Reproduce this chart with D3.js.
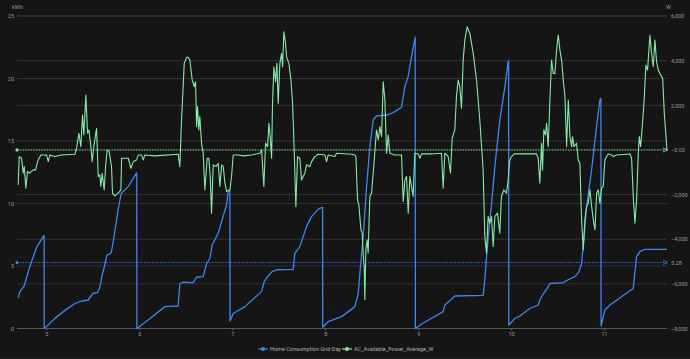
<!DOCTYPE html>
<html><head><meta charset="utf-8">
<script src="https://cdn.jsdelivr.net/npm/d3@7"></script>
<style>
html,body{margin:0;padding:0;background:#151515;}
svg{display:block;font-family:Roboto,"Open Sans",sans-serif;}
</style></head>
<body><svg id="c" width="690" height="359"></svg>
<script>
// ---- data ----
const dayTicks = [5,6,7,8,9,10,11];
const leftTicks = [0,5,10,15,20,25];
const rightTicks = [-8000,-6000,-4000,-2000,0,2000,4000,6000];
const seriesNames = ["Home Consumption Grid Day","AC_Available_Power_Average_W"];
const leftUnit = "kWh", rightUnit = "W";
const markerBlue = 5.28, markerGreen = -0.03;

const homeTimes = [4.697,4.715,4.761,4.822,4.895,4.966,4.976,4.977,
5.03,5.091,5.2,5.307,5.379,5.45,5.49,5.503,5.551,5.575,5.598,5.629,5.65,5.69,5.70,5.723,5.772,5.805,5.88,5.972,5.974,
6.095,6.275,6.418,6.436,6.472,6.579,6.616,6.687,6.724,6.759,6.784,6.848,6.885,6.939,6.956,6.974,6.976,
7.010,7.136,7.315,7.343,7.386,7.429,7.477,7.655,7.673,7.727,7.763,7.799,7.853,7.924,7.961,7.972,7.973,
8.032,8.176,8.319,8.355,8.373,8.408,8.445,8.480,8.516,8.552,8.677,8.749,8.821,8.857,8.892,8.929,8.965,8.968,8.970,
9.036,9.269,9.287,9.341,9.395,9.699,9.717,9.753,9.790,9.825,9.879,9.933,9.968,9.973,9.975,
10.040,10.094,10.201,10.291,10.309,10.345,10.381,10.417,10.560,10.614,10.686,10.732,10.758,10.775,10.812,10.866,10.919,10.955,10.966,10.968,
11.009,11.063,11.313,11.350,11.385,11.439,11.677];
const homeValues = [2.44,2.95,3.4,4.95,6.5,7.35,7.45,0,
0.35,0.81,1.45,2.0,2.2,2.28,2.7,2.82,2.87,3.3,4.2,5.1,5.85,6.0,6.15,7.1,9.5,10.8,11.35,12.45,0,
0.68,1.75,1.8,3.6,3.7,3.67,4.1,4.15,5.2,5.6,6.7,7.6,8.55,9.9,10.95,11.1,0.6,
1.2,1.75,2.95,3.75,4.2,4.55,4.7,4.73,6.0,6.55,7.35,8.15,8.95,9.55,9.67,9.7,0.1,
0.55,0.95,1.75,2.8,4.4,7.35,11.35,14.5,16.7,17.0,17.1,17.35,17.7,19.35,20.15,21.75,23.2,23.3,0,
0.36,1.35,1.88,2.22,2.6,2.65,3.9,7.35,10.0,12.95,16.7,19.35,21.35,21.4,0.28,
0.8,1.0,1.6,1.88,2.28,2.76,3.13,3.6,3.67,3.9,4.15,4.55,5.2,6.55,9.75,12.7,16.15,18.3,18.4,0.2,
1.48,1.88,3.2,5.75,6.15,6.33,6.33];

const acTimes = [4.697,4.708,4.733,4.751,4.762,4.779,4.797,4.822,4.858,4.883,4.912,4.941,5.002,5.020,5.038,5.091,5.163,5.307,
5.325,5.350,5.371,5.389,5.403,5.425,5.443,5.457,5.479,5.493,5.515,5.540,5.558,5.576,5.586,5.601,5.622,5.637,5.654,5.676,5.701,
5.712,5.737,5.773,5.802,5.809,5.881,5.910,5.935,5.971,5.988,6.024,6.042,6.060,6.167,6.418,6.436,6.454,6.483,6.508,
6.526,6.544,6.569,6.590,6.605,6.616,6.626,6.640,6.651,6.669,6.687,6.705,6.730,6.748,6.763,6.777,6.795,6.827,6.849,6.867,6.885,
6.903,6.921,6.939,6.975,6.992,7.010,7.064,7.118,7.208,7.298,7.316,7.326,7.340,7.358,7.380,7.394,7.408,7.423,7.433,7.448,7.466,
7.480,7.494,7.512,7.530,7.541,7.555,7.573,7.584,7.609,7.631,7.649,7.666,7.684,7.702,7.727,7.745,7.763,7.781,7.799,7.835,7.853,
7.888,7.924,7.996,8.014,8.032,8.104,8.122,8.283,8.319,8.330,8.348,8.362,8.384,8.398,8.408,8.419,8.426,8.437,8.451,8.462,8.480,
8.498,8.516,8.541,8.552,8.570,8.588,8.606,8.624,8.642,8.660,8.678,8.695,8.749,8.821,8.839,8.857,8.875,8.893,8.911,8.946,8.964,
9.000,9.018,9.036,9.143,9.251,9.269,9.287,9.323,9.348,9.366,9.394,9.412,9.430,9.448,9.466,9.484,9.502,9.527,9.556,9.592,9.628,
9.663,9.699,9.717,9.735,9.753,9.771,9.789,9.807,9.825,9.853,9.878,9.896,9.921,9.950,9.968,9.986,10.004,10.032,10.201,
10.273,10.291,10.309,10.327,10.338,10.352,10.370,10.381,10.399,10.417,10.435,10.453,10.471,10.489,10.507,10.525,10.543,10.561,
10.579,10.597,10.615,10.633,10.651,10.661,10.676,10.704,10.722,10.740,10.758,10.776,10.794,10.812,10.830,10.848,10.866,10.884,
10.902,10.920,10.937,10.955,10.973,10.991,11.009,11.027,11.045,11.081,11.099,11.134,11.278,11.296,11.314,11.332,11.350,11.368,
11.379,11.393,11.411,11.429,11.450,11.468,11.493,11.511,11.529,11.547,11.565,11.583,11.601,11.630,11.648,11.677];
const acValues = [-1566,-298,-373,-1044,-746,-1715,-969,-1044,-895,-895,-447,-224,-224,-522,-224,-298,-224,-194,
75,746,149,1566,671,2460,746,895,149,-522,298,969,-1193,-1118,-1640,-1044,-1789,-746,0,-75,-746,
-1938,-2058,-1938,-1789,-373,-373,-820,-522,-447,-224,-224,-447,-224,-268,-194,-746,1342,3877,4145,
4145,4026,3131,2833,3057,1044,1938,895,1491,298,-149,-1789,-373,-373,-1193,-2833,-671,-746,-596,-1640,-671,
-746,-1491,-1864,-1789,-1193,-224,-224,-268,-224,-149,0,-746,-1640,298,149,1193,596,-373,2087,3728,3057,
3877,2087,3877,4324,3728,5293,4771,4175,3877,3131,2087,0,-2535,-298,-373,-1342,-1193,-1044,-671,-746,-522,
-298,-194,-224,-522,-224,-298,-149,-194,-224,-298,-2237,-2460,-3578,-3728,-4622,-5219,-6710,-4473,-4026,-4622,-2087,
-1938,-1044,298,895,447,1044,596,3057,2237,-149,671,-149,-224,-224,-2311,-1342,-1193,-2833,-1193,-2087,-149,
-179,-373,-179,-179,-149,-1715,-149,-298,-1044,522,895,2386,3131,2833,1864,4026,4920,5517,5219,4324,3131,
1342,-895,-3877,-4622,-2982,-3280,-2982,-4324,-2982,-2833,-3728,-2087,-1789,-1938,-1342,-447,-298,-179,-179,
-179,-373,-1491,298,-895,895,671,1193,149,2237,4026,3429,3429,4473,5144,4473,4026,3131,
2386,149,2237,596,149,596,149,298,-447,-596,-3131,-4473,-3131,-2535,-2386,-1789,-2535,-3131,
-3578,-1938,-1789,-2386,-1715,-1640,-447,-298,-179,-224,-298,-224,-179,-373,-2087,-3280,-2237,-149,
596,149,1044,2087,3802,3578,5144,4324,3728,4920,3951,3578,3429,3206,1640,-30];

// ---- chart ----
const W = 690, H = 359;
const pL = 17, pR = 667, pT = 16, pB = 328.5;
const blue = "#3f86ef", green = "#86eaa6";
const svg = d3.select("#c");
svg.append("rect").attr("width",W).attr("height",H).attr("fill","#151515");

const x = d3.scaleLinear().domain([4.684, 11.677]).range([pL, pR]);
const yL = d3.scaleLinear().domain([0,25]).range([pB, pT]);
const yR = d3.scaleLinear().domain([-8000,6000]).range([pB, pT]);

const grid = svg.append("g");
leftTicks.forEach(v => grid.append("line").attr("x1",pL).attr("x2",pR)
  .attr("y1",yL(v)).attr("y2",yL(v)).attr("stroke","#333").attr("stroke-width",1));
rightTicks.forEach(v => grid.append("line").attr("x1",pL).attr("x2",pR)
  .attr("y1",yR(v)).attr("y2",yR(v)).attr("stroke","#333").attr("stroke-width",1));

// axes
const axL = svg.append("g").attr("transform",`translate(${pL-3},0)`)
  .call(d3.axisLeft(yL).tickValues(leftTicks).tickSize(0).tickPadding(0));
// right labels: the 0 label is covered by the -0.03 marker label
const axR = svg.append("g").attr("transform",`translate(${pR+4},0)`)
  .call(d3.axisRight(yR).tickValues(rightTicks.filter(v=>v!==0)).tickSize(0).tickPadding(0).tickFormat(d3.format(",")));
const axB = svg.append("g").attr("transform",`translate(0,${pB})`)
  .call(d3.axisBottom(x).tickValues(dayTicks).tickSize(2).tickPadding(2).tickFormat(d3.format("d")));
[axL,axR,axB].forEach(a=>{
  a.select(".domain").remove();
  a.selectAll("text").attr("fill","#9a9a9a").style("font-size","5.5px").style("font-family","Roboto, sans-serif");
  a.selectAll("line").attr("stroke","#666");
});
svg.append("line").attr("x1",pL).attr("x2",pR).attr("y1",pB).attr("y2",pB)
  .attr("stroke","#555").attr("stroke-width",1);

svg.append("text").attr("x",12).attr("y",8.5).attr("fill","#9a9a9a").style("font-size","5.5px").text(leftUnit);
svg.append("text").attr("x",666).attr("y",8.5).attr("fill","#9a9a9a").style("font-size","5.5px").text(rightUnit);

// clip
svg.append("clipPath").attr("id","clip").append("rect").attr("x",pL).attr("y",0).attr("width",pR-pL+1).attr("height",pB+2);

const n1 = Math.min(homeTimes.length, homeValues.length);
const n2 = Math.min(acTimes.length, acValues.length);
const home = homeTimes.slice(0,n1).map((t,i)=>[t,homeValues[i]]);
const ac = acTimes.slice(0,n2).map((t,i)=>[t,acValues[i]]);

const plot = svg.append("g").attr("clip-path","url(#clip)");
plot.append("path").datum(home)
  .attr("d", d3.line().x(d=>x(d[0])).y(d=>yL(d[1])))
  .attr("fill","none").attr("stroke",blue).attr("stroke-width",1.3).attr("stroke-linejoin","round");
plot.append("path").datum(ac)
  .attr("d", d3.line().x(d=>x(d[0])).y(d=>yR(d[1])))
  .attr("fill","none").attr("stroke",green).attr("stroke-width",1.1).attr("stroke-linejoin","round");

// marker lines
function marker(yv, col, label){
  svg.append("line").attr("x1",pL).attr("x2",pR-3).attr("y1",yv).attr("y2",yv)
    .attr("stroke",col).attr("stroke-width",0.8).attr("stroke-dasharray","1.5,1.2");
  svg.append("circle").attr("cx",pL).attr("cy",yv).attr("r",1.6).attr("fill",col);
  svg.append("path").attr("d",`M${pR-4},${yv-2}L${pR+0.5},${yv}L${pR-4},${yv+2}`)
    .attr("fill","none").attr("stroke",col).attr("stroke-width",0.9);
  svg.append("text").attr("x",pR+4).attr("y",yv+2).attr("fill","#9a9a9a").style("font-size","5.5px").text(label);
}
marker(yR(markerGreen), green, d3.format(".2f")(markerGreen));
marker(yL(markerBlue), blue, d3.format(".2f")(markerBlue));

// legend
const lg = svg.append("g").style("font-size","5.5px");
const items = [{name:seriesNames[0],col:blue,x:258},{name:seriesNames[1],col:green,x:342}];
items.forEach(it=>{
  lg.append("line").attr("x1",it.x).attr("x2",it.x+10).attr("y1",349).attr("y2",349).attr("stroke",it.col).attr("stroke-width",1.2);
  lg.append("circle").attr("cx",it.x+5).attr("cy",349).attr("r",2).attr("fill",it.col);
  lg.append("text").attr("x",it.x+12).attr("y",351).attr("fill","#b0b0b0").text(it.name);
});
svg.append("rect").attr("x",0).attr("y",357).attr("width",W).attr("height",2).attr("fill","#1d1d1d");
</script></body></html>
